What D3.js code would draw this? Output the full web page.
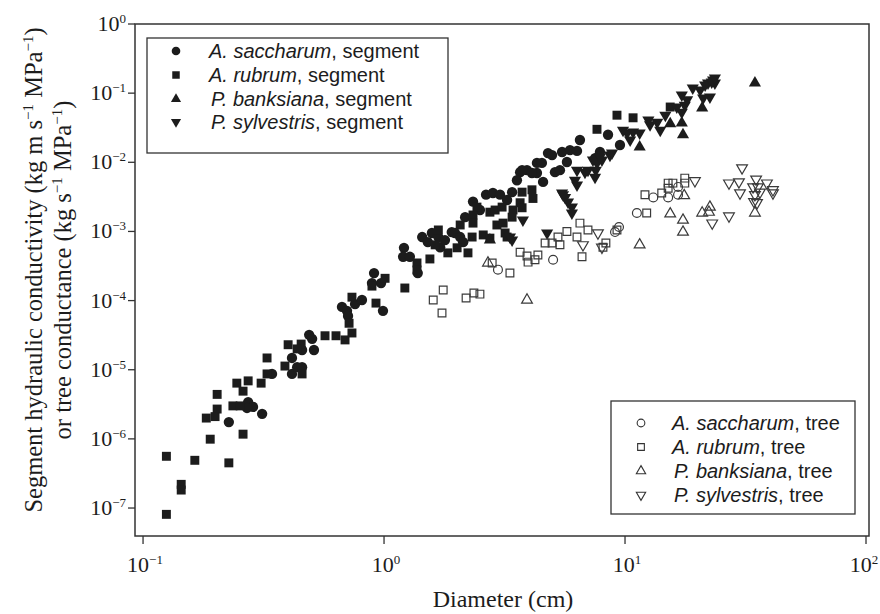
<!DOCTYPE html>
<html lang="en">
<head>
<meta charset="UTF-8">
<title>Conductivity vs diameter</title>
<style>
  body { margin: 0; background: #fff; }
  svg { display: block; }
</style>
</head>
<body>
<script src="https://d3js.org/d3.v7.min.js"></script>
<script>
// [diameter (cm), conductivity]
const saccharumSeg = [[0.227,1.75e-6],[0.273,3.4e-6],[0.286,2.9e-6],[0.27,2.8e-6],[0.312,2.3e-6],[0.343,8.7e-6],[0.415,1.48e-5],[0.415,8.7e-6],[0.436,1.09e-5],[0.457,1.09e-5],[0.489,3.2e-5],[0.503,2.8e-5],[0.512,1.93e-5],[0.457,1.93e-5],[0.669,8.1e-5],[0.702,7.1e-5],[0.709,6.0e-5],[0.758,8.9e-5],[0.81,1.02e-4],[0.909,2.5e-4],[0.891,1.79e-4],[0.972,1.79e-4],[0.99,7.1e-5],[1.21,5.8e-4],[1.2,4.3e-4],[1.28,4.3e-4],[1.38,2.5e-4],[1.44,8.3e-4],[1.58,9.5e-4],[1.68,8.3e-4],[1.71,5.9e-4],[1.79,7.5e-4],[1.52,7.0e-4],[1.91,9.8e-4],[1.97,9.5e-4],[2.07,8.3e-4],[2.13,7.0e-4],[2.17,1.61e-3],[2.5,2.04e-3],[2.65,3.4e-3],[2.34,2.7e-3],[2.83,3.6e-3],[3.03,3.4e-3],[3.24,2.85e-3],[3.4,3.7e-3],[3.67,7.2e-3],[3.92,7.7e-3],[4.31,9.8e-3],[4.52,9.8e-3],[4.31,7.0e-3],[4.57,5.2e-3],[3.56,5.5e-3],[4.79,1.36e-2],[5.48,1.41e-2],[5.91,1.5e-2],[6.32,1.46e-2],[6.5,2.1e-2],[4.98,1.27e-2],[4.11,7.0e-3],[3.74,7.7e-3],[5.12,7.2e-3],[5.37,7.7e-3],[5.74,1.01e-2],[8.5,2.5e-2],[9.53,1.78e-2],[7.87,1.41e-2],[7.51,1.15e-2]];
const rubrumSeg = [[0.125,5.6e-7],[0.144,2.2e-7],[0.144,1.82e-7],[0.164,4.9e-7],[0.125,8.1e-8],[0.183,2.0e-6],[0.203,4.4e-6],[0.203,2.7e-6],[0.199,2.1e-6],[0.19,9.9e-7],[0.227,4.5e-7],[0.26,1.17e-6],[0.245,6.4e-6],[0.26,4.9e-6],[0.273,6.9e-6],[0.309,6.4e-6],[0.327,1.48e-5],[0.327,8.7e-6],[0.388,1.13e-5],[0.40,2.3e-5],[0.236,3.0e-6],[0.253,3.0e-6],[0.453,2.35e-5],[0.436,2.0e-5],[0.457,8.7e-6],[0.569,3.1e-5],[0.632,3.1e-5],[0.689,2.7e-5],[0.736,3.4e-5],[0.736,1.12e-4],[0.716,4.7e-5],[0.926,9.2e-5],[1.01,2.1e-4],[0.891,1.62e-4],[1.22,1.52e-4],[1.37,3.5e-4],[1.37,2.77e-4],[1.55,4.0e-4],[1.68,1.05e-3],[1.63,6.4e-4],[1.84,4.9e-4],[2.07,1.24e-3],[2.01,5.8e-4],[2.23,4.9e-4],[2.32,8.3e-4],[2.34,1.73e-3],[2.43,2.25e-3],[2.34,1.32e-3],[2.58,8.9e-4],[2.75,8.0e-4],[2.94,1.24e-3],[2.75,1.9e-3],[2.89,2.04e-3],[3.09,2.25e-3],[3.4,1.61e-3],[3.43,2.04e-3],[3.67,2.6e-3],[3.74,2.2e-3],[3.74,3.7e-3],[4.11,4.0e-3],[4.15,3.0e-3],[3.24,8.3e-4],[9.26,4.8e-2],[10.8,4.4e-2],[7.65,3.0e-2],[15.4,6.3e-2],[3.12,1.32e-3],[3.18,9.5e-4]];
const banksianaSeg = [[2.75,7.5e-4],[11.5,1.66e-2],[15.4,3.6e-2],[17.2,3.7e-2],[17.4,2.5e-2],[20.9,6.1e-2],[34.6,0.14]];
const sylvestrisSeg = [[3.77,1.46e-3],[3.33,8.3e-4],[3.4,7.5e-4],[4.75,9.5e-4],[5.48,3.6e-3],[5.64,3.1e-3],[5.8,2.66e-3],[6.02,2.25e-3],[6.02,1.85e-3],[6.32,7.7e-3],[6.32,4.7e-3],[7.02,7.7e-3],[7.51,6.1e-3],[7.36,1.08e-2],[7.65,9.8e-3],[7.87,1.19e-2],[8.66,1.27e-2],[10.2,2.65e-2],[10.8,2.74e-2],[11.5,2.65e-2],[10.5,2.1e-2],[12.5,4.1e-2],[13.6,3.8e-2],[14.0,2.9e-2],[12.7,3.5e-2],[16.4,6.3e-2],[17.2,5.3e-2],[17.7,6.7e-2],[18.1,8.0e-2],[17.2,9.4e-2],[20.5,0.111],[22.1,0.14],[23.2,0.155],[23.6,0.14],[22.5,8.8e-2],[21.1,8.5e-2],[19.1,0.119],[21.5,0.131],[22.9,0.145],[23.6,0.166],[9.81,2.9e-2],[6.82,7.2e-3],[6.2,5.5e-3],[5.53,3.4e-3],[8.83,1.36e-2],[8.02,1.08e-2],[7.56,7.7e-3],[14.7,4.8e-2]];

const saccharumTree = [[2.97,2.8e-4],[5.03,3.9e-4],[9.09,9.8e-4],[9.44,1.16e-3],[11.2,1.85e-3],[13.1,3.1e-3],[15.1,3.1e-3],[16.6,3.4e-3],[16.6,4.4e-3]];
const rubrumTree = [[1.76,1.42e-4],[1.6,1.02e-4],[1.74,6.6e-5],[2.19,1.09e-4],[2.36,1.29e-4],[2.5,1.24e-4],[2.81,3.5e-4],[3.33,2.5e-4],[3.67,5.0e-4],[3.92,4.4e-4],[4.23,3.9e-4],[4.35,4.55e-4],[3.96,3.6e-4],[4.66,6.8e-4],[4.98,6.8e-4],[5.27,8.3e-4],[5.74,1.0e-3],[6.5,1.32e-3],[7.02,1.05e-3],[6.32,8.3e-4],[5.37,6.4e-4],[6.63,4.3e-4],[8.33,6.8e-4],[8.1,5.9e-4],[9.26,1.05e-3],[12.3,1.85e-3],[12.1,3.4e-3],[14.2,3.6e-3],[15.1,4.2e-3],[15.1,5.0e-3],[15.8,5.0e-3],[17.7,5.0e-3],[17.7,5.9e-3]];
const banksianaTree = [[2.7,3.5e-4],[3.92,1.02e-4],[11.5,6.4e-4],[15.4,1.8e-3],[17.4,1.46e-3],[17.4,9.8e-4],[20.9,1.85e-3],[22.5,2.25e-3],[34.6,1.85e-3],[17.6,3.3e-3],[22.3,1.9e-3]];
const sylvestrisTree = [[6.69,6.4e-4],[7.72,9.5e-4],[8.02,5.9e-4],[19.5,5.4e-3],[23.0,1.32e-3],[27.0,1.67e-3],[30.6,8.3e-3],[27.0,5.0e-3],[29.7,5.2e-3],[30.0,3.6e-3],[35.0,5.7e-3],[38.8,5.0e-3],[34.0,4.4e-3],[35.6,4.4e-3],[34.6,3.4e-3],[36.3,3.7e-3],[34.3,2.7e-3],[35.3,2.6e-3],[41.1,4.0e-3],[41.1,3.6e-3]];

const species = ["A. saccharum", "A. rubrum", "P. banksiana", "P. sylvestris"];
const xTickExps = [-1, 0, 1, 2];
const yTickExps = [0, -1, -2, -3, -4, -5, -6, -7];

const width = 880, height = 614;
const plot = {left: 135, right: 869, top: 24, bottom: 536};
const serif = "'Liberation Serif', 'Times New Roman', serif";
const sans = "'Liberation Sans', Arial, Helvetica, sans-serif";
const ink = "#1c1c1c";

const x = d3.scaleLog().domain([0.0926, 102.9]).range([plot.left, plot.right]);
const y = d3.scaleLog().domain([3.94e-8, 1]).range([plot.bottom, plot.top]);

const svg = d3.select("body").append("svg")
  .attr("width", width)
  .attr("height", height);

// symbol shapes: circle, square, triangle up, triangle down
const shapes = [
  {type: d3.symbolCircle, rot: 0},
  {type: d3.symbolSquare, rot: 0},
  {type: d3.symbolTriangle, rot: 0},
  {type: d3.symbolTriangle, rot: 180}
];
const filledSize = [84, 80, 64, 64];
const openSize = [62, 60, 50, 50];

const groups = [
  {data: saccharumSeg, shape: 0, filled: true},
  {data: rubrumSeg, shape: 1, filled: true},
  {data: banksianaSeg, shape: 2, filled: true},
  {data: sylvestrisSeg, shape: 3, filled: true},
  {data: saccharumTree, shape: 0, filled: false},
  {data: rubrumTree, shape: 1, filled: false},
  {data: banksianaTree, shape: 2, filled: false},
  {data: sylvestrisTree, shape: 3, filled: false}
];

function symbolPath(shape, filled, scale) {
  const s = (filled ? filledSize : openSize)[shape] * (scale || 1);
  return d3.symbol().type(shapes[shape].type).size(s)();
}

// frame
svg.append("rect")
  .attr("x", plot.left).attr("y", plot.top)
  .attr("width", plot.right - plot.left).attr("height", plot.bottom - plot.top)
  .attr("fill", "none").attr("stroke", "#333").attr("stroke-width", 1.5);

// points
groups.forEach(g => {
  svg.append("g")
    .selectAll("path")
    .data(g.data)
    .join("path")
    .attr("d", symbolPath(g.shape, g.filled))
    .attr("transform", d => `translate(${x(d[0])},${y(d[1])}) rotate(${shapes[g.shape].rot})`)
    .attr("fill", g.filled ? ink : "none")
    .attr("stroke", g.filled ? "none" : "#3a3a3a")
    .attr("stroke-width", 1.2);
});

// x ticks
const xt = svg.append("g");
xt.selectAll("line").data(xTickExps).join("line")
  .attr("x1", e => x(10 ** e)).attr("x2", e => x(10 ** e))
  .attr("y1", plot.bottom).attr("y2", plot.bottom + 8)
  .attr("stroke", "#333").attr("stroke-width", 1.3);
const xl = xt.selectAll("text").data(xTickExps).join("text")
  .attr("x", (e, i) => x(10 ** e) + (i === xTickExps.length - 1 ? -2 : 2)).attr("y", 572)
  .attr("text-anchor", "middle")
  .attr("font-family", serif).attr("font-size", 22).attr("fill", ink);
xl.append("tspan").text("10");
xl.append("tspan").attr("dy", -8).attr("font-size", 13).text(e => e < 0 ? "\u2212" + (-e) : e);

// y ticks
const yt = svg.append("g");
yt.selectAll("line").data(yTickExps).join("line")
  .attr("x1", plot.left - 7).attr("x2", plot.left)
  .attr("y1", e => y(10 ** e)).attr("y2", e => y(10 ** e))
  .attr("stroke", "#333").attr("stroke-width", 1.3);
const yl = yt.selectAll("text").data(yTickExps).join("text")
  .attr("x", plot.left - 9).attr("y", e => y(10 ** e) + 7)
  .attr("text-anchor", "end")
  .attr("font-family", serif).attr("font-size", 22).attr("fill", ink);
yl.append("tspan").text("10");
yl.append("tspan").attr("dy", -8).attr("font-size", 13).text(e => e < 0 ? "\u2212" + (-e) : e);

// axis titles
svg.append("text")
  .attr("x", 503).attr("y", 607)
  .attr("text-anchor", "middle")
  .attr("font-family", serif).attr("font-size", 24).attr("fill", ink)
  .text("Diameter (cm)");

function titleLine(parent, cx, parts) {
  const t = parent.append("text")
    .attr("transform", `translate(${cx},270) rotate(-90)`)
    .attr("text-anchor", "middle")
    .attr("font-family", serif).attr("font-size", 24.5).attr("fill", ink);
  parts.forEach(p => {
    if (p.sup) {
      t.append("tspan").attr("dy", -9).attr("font-size", 15).text(p.text);
    } else {
      t.append("tspan").attr("dy", p.after ? 9 : 0).text(p.text);
    }
  });
}
titleLine(svg, 42, [
  {text: "Segment hydraulic conductivity (kg m s"},
  {text: "\u22121", sup: true},
  {text: " MPa", after: true},
  {text: "\u22121", sup: true},
  {text: ")", after: true}
]);
titleLine(svg, 71, [
  {text: "or tree conductance (kg s"},
  {text: "\u22121", sup: true},
  {text: " MPa", after: true},
  {text: "\u22121", sup: true},
  {text: ")", after: true}
]);

// legends
function legend(box, rowY, markX, textX, filled, suffix) {
  const lg = svg.append("g");
  lg.append("rect")
    .attr("x", box[0]).attr("y", box[1])
    .attr("width", box[2] - box[0]).attr("height", box[3] - box[1])
    .attr("fill", "#fff").attr("stroke", "#333").attr("stroke-width", 1.3);
  const rows = lg.selectAll("g").data(species).join("g")
    .attr("transform", (d, i) => `translate(0,${rowY[i]})`);
  rows.append("path")
    .attr("d", (d, i) => symbolPath(i, filled, filled ? 0.7 : 0.75))
    .attr("transform", (d, i) => `translate(${markX},0) rotate(${shapes[i].rot})`)
    .attr("fill", filled ? ink : "none")
    .attr("stroke", filled ? "none" : "#333")
    .attr("stroke-width", 1.1);
  const txt = rows.append("text")
    .attr("x", (d, i) => textX + (i >= 2 ? 2 : 0)).attr("y", 7)
    .attr("font-family", sans).attr("font-size", 20).attr("fill", ink);
  txt.append("tspan").attr("font-style", "italic").text(d => d);
  txt.append("tspan").text(", " + suffix);
}
legend([147, 38, 448, 153], [51, 75, 99, 122], 176, 209, true, "segment");
legend([611, 401, 855, 514], [423, 447, 471, 495], 641, 672, false, "tree");
</script>
</body>
</html>
